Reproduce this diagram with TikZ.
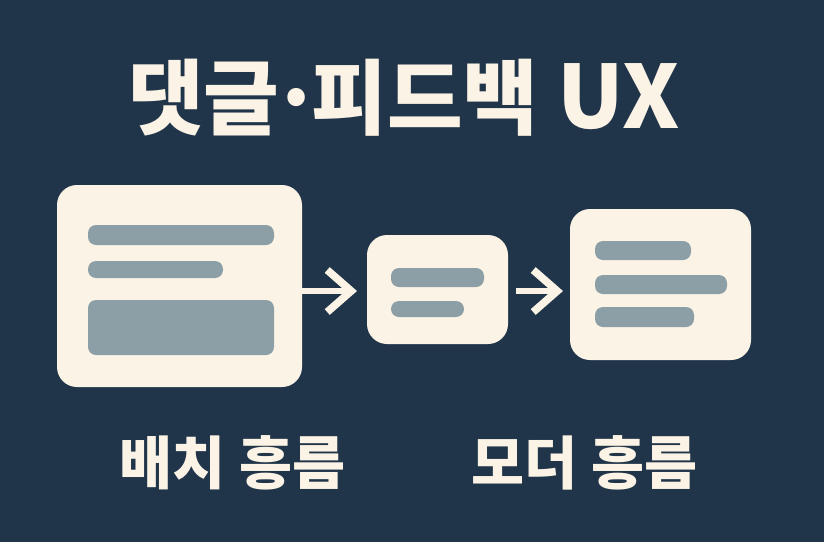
\documentclass[tikz,border=0pt]{standalone}
\usepackage{fontspec}
\usepackage{tikz}
\usetikzlibrary{arrows.meta}
\newfontfamily\korfont{Noto Sans CJK KR}
\definecolor{bgnavy}{HTML}{21354A}
\definecolor{cream}{HTML}{FBF3E5}
\definecolor{slate}{HTML}{8D9FA6}
\def\pxu{0.025cm}
\begin{document}
\begin{tikzpicture}[x=0.025cm, y=-0.025cm,
  card/.style 2 args = {fill=cream, rounded corners=0.5cm, inner sep=0, minimum width=#1*\pxu, minimum height=#2*\pxu},
  bar/.style 2 args = {fill=slate, rounded corners=0.2cm, inner sep=0, minimum width=#1*\pxu, minimum height=#2*\pxu},
  flow/.style = {draw=cream, line width=0.17cm, -{Straight Barb[length=0.6cm, width=1.05cm, line width=0.19cm]}},
  title/.style = {text=cream, font=\korfont\bfseries\fontsize{58.5pt}{58.5pt}\selectfont},
  caption/.style = {text=cream, font=\korfont\bfseries\fontsize{41pt}{41pt}\selectfont}]
\fill[bgnavy] (0,0) rectangle (824,542);
\useasboundingbox (0,0) rectangle (824,542);
\node[title] (heading) at (404,98) {댓글\kern-6pt·\kern-7pt피드백 {\fontsize{62pt}{62pt}\selectfont UX}};
% cards
\node[card={245}{202}] (layout) at (179.5,286) {};
\node[card={141}{109}] (modal) at (437.5,289.5) {};
\node[card={181}{151}] (result) at (660.5,284.5) {};
% bars inside the cards
\node[bar={186}{20}] (layout1) at (181,235) {};
\node[bar={135}{17}] (layout2) at (155.5,269.5) {};
\node[bar={186}{55}] (layout3) at (181,327.5) {};
\node[bar={93}{19}] (modal1) at (437.5,277.5) {};
\node[bar={73}{16}] (modal2) at (427.5,309) {};
\node[bar={96}{19}] (result1) at (643,250.5) {};
\node[bar={132}{19}] (result2) at (661,284.5) {};
\node[bar={99}{20}] (result3) at (644.5,317) {};
% arrows
\coordinate (tip1) at (357,291);
\coordinate (start2) at (516,291);
\coordinate (tip2) at (563,291);
\draw[flow] (layout.east |- tip1) -- (tip1);
\draw[flow] (start2) -- (tip2);
% captions
\node[caption] (label1) at (232.5,462.5) {배치 흥름};
\node[caption] (label2) at (584.5,462.5) {모더 흥름};
\end{tikzpicture}
\end{document}
